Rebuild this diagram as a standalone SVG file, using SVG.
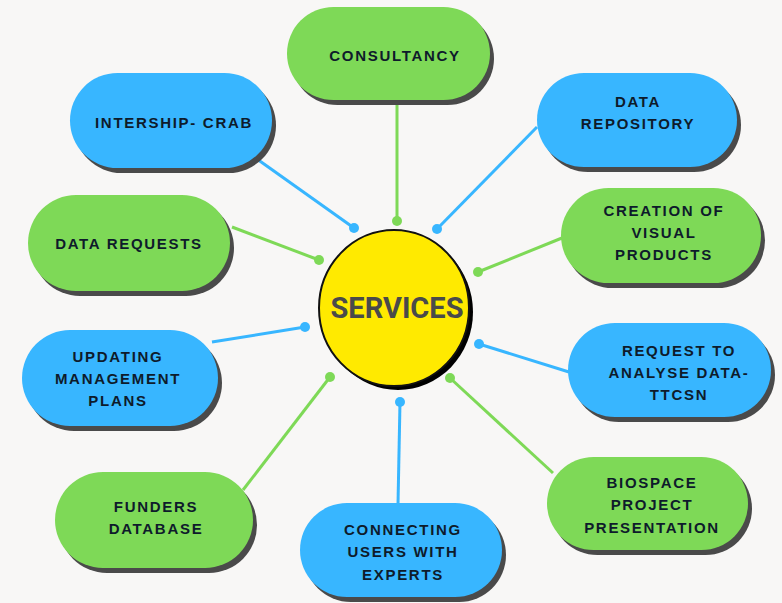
<svg xmlns="http://www.w3.org/2000/svg" width="782" height="603" viewBox="0 0 782 603">
<style>
.bg{fill:#f8f7f6}
.sh{fill:#4a4a4a}
.g{fill:#7ed957}
.b{fill:#38b6ff}
.t{font-family:"Liberation Sans",Arial,sans-serif;font-weight:700;font-size:15px;letter-spacing:1.7px;fill:#0e1b2b;text-anchor:middle}
.lg{stroke:#7ed957;stroke-width:3;fill:none}
.lb{stroke:#38b6ff;stroke-width:3;fill:none}
.dg{fill:#7ed957}
.db{fill:#38b6ff}
</style>
<rect class="bg" x="0" y="0" width="782" height="603"/>

<g id="connectors">
  <line class="lg" x1="397" y1="102" x2="397" y2="221"/>
  <circle class="dg" cx="397" cy="221" r="5"/>
  <line class="lb" x1="537" y1="127" x2="437" y2="229"/>
  <circle class="db" cx="437" cy="229" r="5"/>
  <line class="lb" x1="257" y1="159" x2="354" y2="228"/>
  <circle class="db" cx="354" cy="228" r="5"/>
  <line class="lg" x1="232" y1="227" x2="319" y2="260"/>
  <circle class="dg" cx="319" cy="260" r="5"/>
  <line class="lg" x1="562" y1="238" x2="478" y2="272"/>
  <circle class="dg" cx="478" cy="272" r="5"/>
  <line class="lb" x1="212" y1="342" x2="305" y2="327"/>
  <circle class="db" cx="305" cy="327" r="5"/>
  <line class="lb" x1="569" y1="372" x2="479" y2="344"/>
  <circle class="db" cx="479" cy="344" r="5"/>
  <line class="lg" x1="243" y1="490" x2="330" y2="377"/>
  <circle class="dg" cx="330" cy="377" r="5"/>
  <line class="lg" x1="553" y1="473" x2="450" y2="378"/>
  <circle class="dg" cx="450" cy="378" r="5"/>
  <line class="lb" x1="398" y1="504" x2="400" y2="402"/>
  <circle class="db" cx="400" cy="402" r="5"/>
</g>

<g id="services">
  <ellipse cx="398" cy="312" rx="75" ry="78" fill="#000"/>
  <ellipse cx="394" cy="308" rx="75" ry="78" fill="#ffea00" stroke="#111" stroke-width="2"/>
  <text x="397" y="318" font-family="Roboto,'Liberation Sans',sans-serif" font-weight="700" font-size="29" fill="#4a4a4a" text-anchor="middle">SERVICES</text>
</g>

<g id="consultancy">
  <rect class="sh" x="291" y="12" width="203" height="93" rx="46.5"/>
  <rect class="g" x="287" y="7" width="203" height="93" rx="46.5"/>
  <text class="t" x="395" y="61">CONSULTANCY</text>
</g>

<g id="data-repository">
  <rect class="sh" x="541" y="78" width="200" height="94" rx="47"/>
  <rect class="b" x="537" y="73" width="200" height="94" rx="47"/>
  <text class="t" x="638" y="107">DATA</text>
  <text class="t" x="638" y="129">REPOSITORY</text>
</g>

<g id="intership-crab">
  <rect class="sh" x="74" y="78" width="202" height="95" rx="47.5"/>
  <rect class="b" x="70" y="73" width="202" height="95" rx="47.5"/>
  <text class="t" x="174" y="128">INTERSHIP- CRAB</text>
</g>

<g id="data-requests">
  <rect class="sh" x="32" y="200" width="202" height="96" rx="48"/>
  <rect class="g" x="28" y="195" width="202" height="96" rx="48"/>
  <text class="t" x="129" y="249">DATA REQUESTS</text>
</g>

<g id="creation-visual-products">
  <rect class="sh" x="565" y="193" width="200" height="95" rx="47.5"/>
  <rect class="g" x="561" y="188" width="200" height="95" rx="47.5"/>
  <text class="t" x="664" y="216">CREATION OF</text>
  <text class="t" x="664" y="238">VISUAL</text>
  <text class="t" x="664" y="260">PRODUCTS</text>
</g>

<g id="updating-management-plans">
  <rect class="sh" x="26" y="335" width="196" height="96" rx="48"/>
  <rect class="g" x="22" y="330" width="196" height="96" rx="48" style="fill:#38b6ff"/>
  <text class="t" x="118" y="362">UPDATING</text>
  <text class="t" x="118" y="384">MANAGEMENT</text>
  <text class="t" x="118" y="406">PLANS</text>
</g>

<g id="request-analyse-data">
  <rect class="sh" x="572" y="328" width="203" height="94" rx="47"/>
  <rect class="b" x="568" y="323" width="203" height="94" rx="47"/>
  <text class="t" x="679" y="356">REQUEST TO</text>
  <text class="t" x="679" y="378">ANALYSE DATA-</text>
  <text class="t" x="679" y="400">TTCSN</text>
</g>

<g id="funders-database">
  <rect class="sh" x="59" y="477" width="198" height="96" rx="48"/>
  <rect class="g" x="55" y="472" width="198" height="96" rx="48"/>
  <text class="t" x="156" y="512">FUNDERS</text>
  <text class="t" x="156" y="534">DATABASE</text>
</g>

<g id="connecting-users-experts">
  <rect class="sh" x="304" y="508" width="202" height="94" rx="47"/>
  <rect class="b" x="300" y="503" width="202" height="94" rx="47"/>
  <text class="t" x="403" y="535">CONNECTING</text>
  <text class="t" x="403" y="557">USERS WITH</text>
  <text class="t" x="403" y="580">EXPERTS</text>
</g>

<g id="biospace-project-presentation">
  <rect class="sh" x="551" y="462" width="201" height="93" rx="46.5"/>
  <rect class="g" x="547" y="457" width="201" height="93" rx="46.5"/>
  <text class="t" x="652" y="488">BIOSPACE</text>
  <text class="t" x="652" y="510">PROJECT</text>
  <text class="t" x="652" y="533">PRESENTATION</text>
</g>
</svg>
